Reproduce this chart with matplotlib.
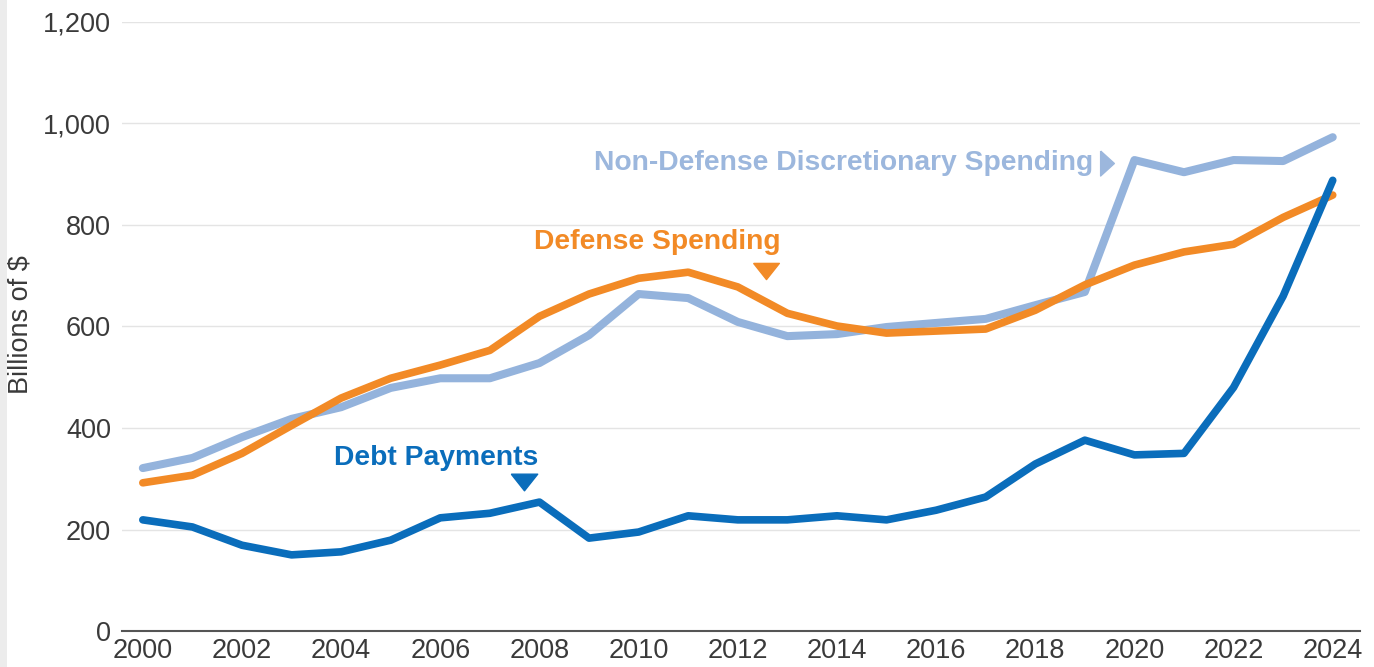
import matplotlib
matplotlib.use("Agg")
import matplotlib.pyplot as plt
from matplotlib.patches import Rectangle

years = list(range(2000, 2025))
debt_payments = [219, 205, 169, 150, 156, 179, 223, 232, 254, 183, 195, 227, 219,
                 219, 227, 219, 238, 264, 329, 376, 347, 350, 480, 660, 888]
defense_spending = [292, 307, 350, 405, 459, 498, 524, 553, 620, 664, 695, 707, 678,
                    626, 601, 587, 591, 595, 632, 682, 721, 747, 762, 815, 859]
nondefense_spending = [321, 341, 382, 418, 441, 479, 498, 498, 528, 583, 664, 656, 609,
                       581, 585, 599, 607, 615, 642, 668, 928, 904, 928, 926, 973]
y_ticks = [0, 200, 400, 600, 800, 1000, 1200]
y_tick_labels = ["0", "200", "400", "600", "800", "1,000", "1,200"]
x_ticks = list(range(2000, 2025, 2))

C_DEBT = "#0a6dbb"
C_DEF = "#f28a26"
C_NON = "#94b3dc"
C_NON_TXT = "#9cb7dd"

plt.rcParams['font.family'] = ['Liberation Sans', 'DejaVu Sans']

fig = plt.figure(figsize=(13.74, 6.67), dpi=100)
fig.patches.append(Rectangle((0, 0), 7 / 1374, 1, transform=fig.transFigure,
                             facecolor="#ececec", edgecolor="none", zorder=0))
ax = fig.add_axes([122 / 1374, 36 / 667, (1360 - 122) / 1374, (631 - 22) / 667])

line_kw = dict(solid_capstyle="round", solid_joinstyle="round")
ax.plot(years, nondefense_spending, color=C_NON, lw=5.8, zorder=3, **line_kw)
ax.plot(years, defense_spending, color=C_DEF, lw=5.5, zorder=4, **line_kw)
ax.plot(years, debt_payments, color=C_DEBT, lw=5.5, zorder=5, **line_kw)

ax.set_xlim(1999.58, 2024.55)
ax.set_ylim(0, 1200)
ax.set_yticks(y_ticks)
ax.set_yticklabels(y_tick_labels)
ax.set_xticks(x_ticks)
ax.set_xticklabels([str(x) for x in x_ticks])
ax.tick_params(axis="both", length=0, labelsize=19.5, colors="#3a3a3a")
ax.tick_params(axis="y", pad=8)
ax.tick_params(axis="x", pad=5)
for lbl in ax.get_yticklabels():
    lbl.set_clip_on(False)

ax.grid(axis="y", color="#e4e4e4", lw=1)
ax.set_axisbelow(True)
for s in ["top", "right", "left"]:
    ax.spines[s].set_visible(False)
ax.spines["bottom"].set_color("#555555")
ax.spines["bottom"].set_linewidth(1.5)

fig.text(21 / 1374, 1 - 325 / 667, "Billions of $", fontsize=19.5, color="#3a3a3a",
         rotation=90, ha="center", va="center")

down_tri = [(-1, 0.63), (1, 0.63), (0, -0.63), (-1, 0.63)]
right_tri = [(-0.55, 1), (0.55, 0), (-0.55, -1), (-0.55, 1)]

# annotations
ax.text(2009.1, 922, "Non-Defense Discretionary Spending", color=C_NON_TXT,
        fontsize=20.3, fontweight="bold", ha="left", va="center")
ax.plot([2019.45], [922], marker=right_tri, color=C_NON_TXT, markersize=18, zorder=6)

ax.text(2007.89, 766, "Defense Spending", color=C_DEF,
        fontsize=20.3, fontweight="bold", ha="left", va="center")
ax.plot([2012.57], [710], marker=down_tri, color=C_DEF, markersize=18.5, zorder=6)

ax.text(2003.85, 341, "Debt Payments", color=C_DEBT,
        fontsize=20.3, fontweight="bold", ha="left", va="center")
ax.plot([2007.68], [294], marker=down_tri, color=C_DEBT, markersize=19, zorder=6)

fig.savefig("out.png", dpi=100, facecolor="white")
